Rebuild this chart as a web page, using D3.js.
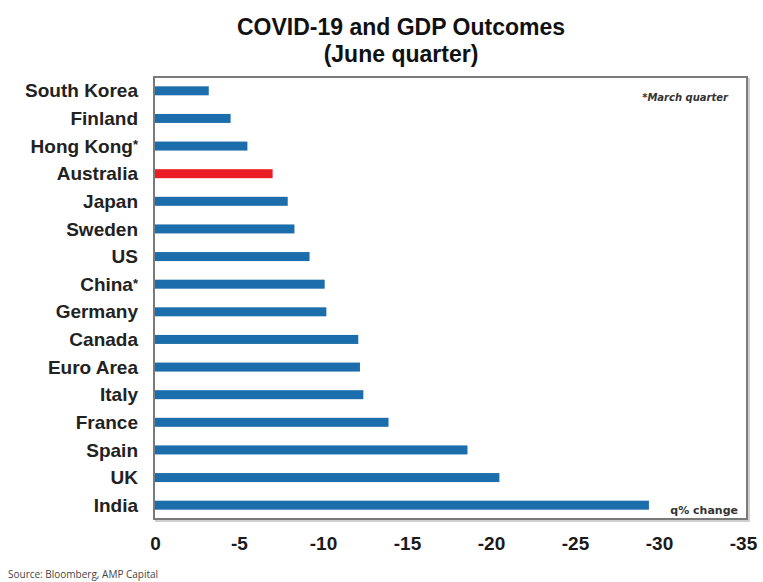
<!DOCTYPE html>
<html>
<head>
<meta charset="utf-8">
<script src="https://cdn.jsdelivr.net/npm/d3@7"></script>
<style>
  body { margin: 0; background: #fff; }
  svg { display: block; }
</style>
</head>
<body>
<div id="plot-container"></div>
<script>
// chart data
var countries = ['South Korea', 'Finland', 'Hong Kong*', 'Australia', 'Japan', 'Sweden', 'US', 'China*',
                 'Germany', 'Canada', 'Euro Area', 'Italy', 'France', 'Spain', 'UK', 'India'];
var gdpChange = [-3.2, -4.5, -5.5, -7.0, -7.9, -8.3, -9.2, -10.1,
                 -10.2, -12.1, -12.2, -12.4, -13.9, -18.6, -20.5, -29.4];
var highlight = ['Australia'];
var xTicks = [0, -5, -10, -15, -20, -25, -30, -35];

// plot parameters
var width = 763, height = 582;
var frame = {left: 154, top: 77, right: 747, bottom: 519};
var barHeight = 9;
var blue = '#1c6dab', red = '#ec1c24';

var svg = d3.select('#plot-container')
            .append('svg')
            .attr('width', width)
            .attr('height', height);

// title
svg.append('text')
   .attr('x', 401).attr('y', 35)
   .attr('text-anchor', 'middle')
   .style('font-family', '"Liberation Sans Narrow", "Liberation Sans", Arial, sans-serif')
   .style('font-weight', 'bold')
   .style('font-size', '23px')
   .attr('fill', '#111')
   .text('COVID-19 and GDP Outcomes');
svg.append('text')
   .attr('x', 401).attr('y', 62)
   .attr('text-anchor', 'middle')
   .style('font-family', '"Liberation Sans Narrow", "Liberation Sans", Arial, sans-serif')
   .style('font-weight', 'bold')
   .style('font-size', '23px')
   .attr('fill', '#111')
   .text('(June quarter)');

// scales
var xScale = d3.scaleLinear()
               .domain([0, -35])
               .range([155, 743]);

var yScale = d3.scalePoint()
               .domain(countries)
               .range([frame.top, frame.bottom])
               .padding(0.5);

// frame with a light shadow
svg.append('rect')
   .attr('x', frame.left + 2).attr('y', frame.top + 2)
   .attr('width', frame.right - frame.left).attr('height', frame.bottom - frame.top)
   .attr('fill', 'none').attr('stroke', '#d0d0d0').attr('stroke-width', 2);
svg.append('rect')
   .attr('x', frame.left).attr('y', frame.top)
   .attr('width', frame.right - frame.left).attr('height', frame.bottom - frame.top)
   .attr('fill', '#fff').attr('stroke', '#7a7a7a').attr('stroke-width', 2);

// bars
svg.selectAll('rect.bar')
   .data(gdpChange)
   .enter()
   .append('rect')
   .attr('class', 'bar')
   .attr('x', xScale(0))
   .attr('y', function(d, i){ return yScale(countries[i]) - barHeight / 2; })
   .attr('width', function(d){ return xScale(d) - xScale(0); })
   .attr('height', barHeight)
   .attr('fill', function(d, i){
       return highlight.indexOf(countries[i]) >= 0 ? red : blue;
   });

// category labels (asterisk drawn small and raised)
var labels = svg.append('g')
   .attr('transform', 'translate(' + (frame.left - 16) + ',0)')
   .call(d3.axisLeft(yScale).tickSize(0).tickPadding(0)
           .tickFormat(function(d){ return ''; }))
   .call(function(g){ g.select('.domain').remove(); })
   .selectAll('text')
   .style('font-family', '"Liberation Sans", Arial, sans-serif')
   .style('font-weight', 'bold')
   .style('font-size', '19px')
   .attr('fill', '#222');

labels.each(function(d){
    var t = d3.select(this);
    var star = d.slice(-1) === '*';
    t.append('tspan').text(star ? d.slice(0, -1) : d);
    if (star) {
        t.append('tspan')
         .attr('dy', '-0.25em')
         .style('font-size', '13px')
         .text('*');
    }
});

// x axis tick labels
svg.append('g')
   .attr('transform', 'translate(0,' + (frame.bottom + 17) + ')')
   .call(d3.axisBottom(xScale).tickValues(xTicks).tickSize(0).tickPadding(0)
           .tickFormat(function(d){ return d === 0 ? '0' : '-' + Math.abs(d); }))
   .call(function(g){ g.select('.domain').remove(); })
   .selectAll('text')
   .style('font-family', '"Liberation Sans Narrow", "Liberation Sans", Arial, sans-serif')
   .style('font-weight', 'bold')
   .style('font-size', '19px')
   .attr('fill', '#1a1a1a');

// notes
svg.append('text')
   .attr('x', 728).attr('y', 101)
   .attr('text-anchor', 'end')
   .style('font-family', '"DejaVu Sans", sans-serif')
   .style('font-style', 'italic')
   .style('font-weight', 'bold')
   .style('font-size', '10px')
   .attr('fill', '#333')
   .text('*March quarter');

svg.append('text')
   .attr('x', 738).attr('y', 514)
   .attr('text-anchor', 'end')
   .style('font-family', '"DejaVu Sans", sans-serif')
   .style('font-weight', 'bold')
   .style('font-size', '11px')
   .attr('fill', '#333')
   .text('q% change');

svg.append('text')
   .attr('x', 8).attr('y', 578)
   .style('font-family', '"Open Sans", "DejaVu Sans", sans-serif')
   .style('font-size', '10px')
   .attr('fill', '#444')
   .text('Source: Bloomberg, AMP Capital');
</script>
</body>
</html>
